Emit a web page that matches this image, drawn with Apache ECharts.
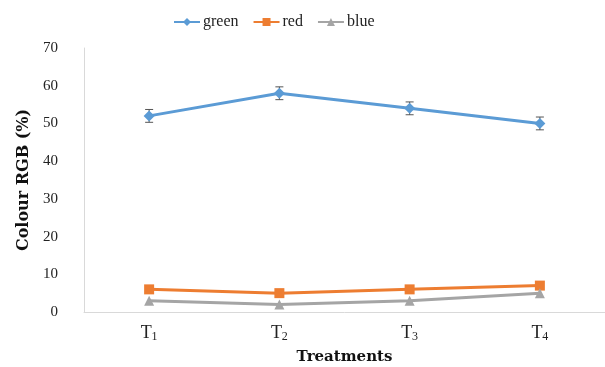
<!DOCTYPE html>
<html><head><meta charset="utf-8">
<script src="https://cdn.jsdelivr.net/npm/echarts@6/dist/echarts.min.js"></script>
<style>html,body{margin:0;padding:0;background:#fff}#c{width:605px;height:367px}</style>
</head><body><div id="c"></div>
<script>
const categories = ['T1','T2','T3','T4'];
const green = [52, 58, 54, 50];
const greenErr = [1.7, 1.7, 1.7, 1.7];
const red = [6, 5, 6, 7];
const blue = [3, 2, 3, 5];
const yTicks = [0, 10, 20, 30, 40, 50, 60, 70];

const FONT = '"Liberation Serif", "DejaVu Serif", serif';
const BFONT = '"DejaVu Serif", serif';
const chart = echarts.init(document.getElementById('c'));
const errData = categories.map((c, i) => [i, green[i] - greenErr[i], green[i] + greenErr[i]]);
chart.setOption({
  animation: false,
  backgroundColor: '#fff',
  legend: {
    top: 9, left: 168, itemGap: 14, itemWidth: 26, itemHeight: 10,
    textStyle: { fontFamily: FONT, fontSize: 16, color: '#222', padding: [0, 0, 0, -2] },
    data: ['green', 'red', 'blue']
  },
  grid: { left: 84, right: 0, top: 48, bottom: 55, outerBoundsMode: 'none', containLabel: false },
  xAxis: {
    type: 'category', data: categories, boundaryGap: true,
    axisLine: { lineStyle: { color: '#d9d9d9' } },
    axisTick: { show: false },
    axisLabel: {
      margin: 11, color: '#222',
      formatter: v => '{b|' + v[0] + '}{s|' + v.slice(1) + '}',
      rich: { b: { fontFamily: FONT, fontSize: 18, color: '#222' },
              s: { fontFamily: FONT, fontSize: 12, color: '#222', verticalAlign: 'bottom', padding: [8, 0, 0, 0] } }
    },
    name: 'Treatments', nameLocation: 'middle', nameGap: 38,
    nameTextStyle: { fontFamily: BFONT, fontSize: 15, fontWeight: 'bold', color: '#111' }
  },
  yAxis: {
    type: 'value', min: 0, max: 70, interval: 10,
    axisLine: { show: true, lineStyle: { color: '#d9d9d9' } },
    axisTick: { show: false },
    splitLine: { show: false },
    axisLabel: { margin: 26, fontFamily: FONT, fontSize: 15, color: '#222',
      formatter: v => yTicks.includes(v) ? String(v) : '' },
    name: 'Colour RGB (%)', nameLocation: 'middle', nameGap: 48,
    nameTextStyle: { fontFamily: BFONT, fontSize: 16, fontWeight: 'bold', color: '#111' }
  },
  series: [
    { name: 'green', type: 'line', data: green, symbol: 'diamond', symbolSize: 11,
      lineStyle: { width: 3, color: '#5B9BD5' }, itemStyle: { color: '#5B9BD5' }, z: 3 },
    { name: 'red', type: 'line', data: red, symbol: 'rect', symbolSize: 10,
      lineStyle: { width: 3, color: '#ED7D31' }, itemStyle: { color: '#ED7D31' } },
    { name: 'blue', type: 'line', data: blue, symbol: 'triangle', symbolSize: 10,
      lineStyle: { width: 3, color: '#A5A5A5' }, itemStyle: { color: '#A5A5A5' } },
    { type: 'custom', name: 'err', data: errData, z: 2, silent: true,
      renderItem: (params, api) => {
        const lo = api.coord([api.value(0), api.value(1)]);
        const hi = api.coord([api.value(0), api.value(2)]);
        const w = 4;
        const st = { stroke: '#555', lineWidth: 1 };
        return { type: 'group', children: [
          { type: 'line', shape: { x1: hi[0], y1: hi[1], x2: lo[0], y2: lo[1] }, style: st },
          { type: 'line', shape: { x1: hi[0]-w, y1: hi[1], x2: hi[0]+w, y2: hi[1] }, style: st },
          { type: 'line', shape: { x1: lo[0]-w, y1: lo[1], x2: lo[0]+w, y2: lo[1] }, style: st }
        ]};
      }
    }
  ]
});
</script></body></html>
